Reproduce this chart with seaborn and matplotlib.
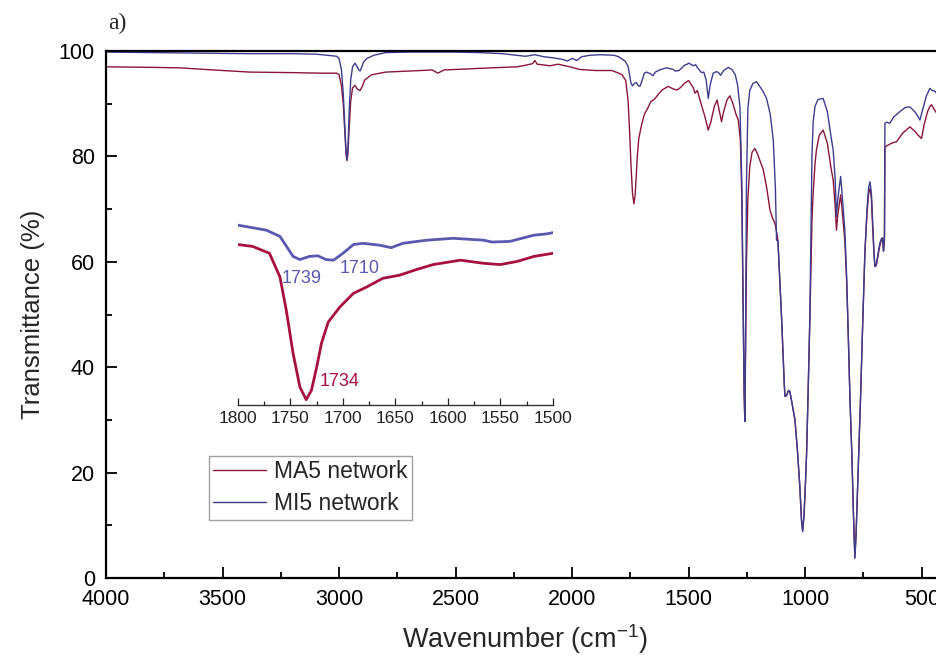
import matplotlib
matplotlib.use("Agg")
import matplotlib.pyplot as plt
import pandas as pd
import seaborn as sns
from matplotlib.ticker import MultipleLocator

# MI5 network spectrum (wavenumber cm-1, transmittance %)
mi5_wn = [4000, 3800, 3600, 3400, 3200, 3100, 3050, 3010, 3000, 2990, 2982, 2975,
          2970, 2966, 2962, 2957, 2950, 2942, 2932, 2922, 2915, 2910, 2904, 2895,
          2880, 2850, 2800, 2700, 2600, 2500, 2400, 2300, 2240, 2200, 2160, 2120,
          2080, 2040, 2020, 2000, 1980, 1960, 1924, 1880, 1820, 1800, 1773, 1760,
          1747.5, 1741, 1732, 1724, 1716, 1709, 1700, 1690, 1681, 1665, 1654, 1643,
          1620, 1595, 1566, 1558, 1541, 1518, 1506, 1500, 1480, 1470, 1460, 1445,
          1435, 1425, 1416, 1408, 1395, 1380, 1370, 1363, 1350, 1330, 1315, 1300,
          1290, 1280, 1272, 1266, 1262, 1259, 1256, 1252, 1246, 1238, 1225, 1209,
          1195, 1180, 1166, 1150, 1137, 1128, 1123, 1117, 1101, 1090, 1087, 1080,
          1072, 1066, 1058, 1044, 1033, 1023, 1016, 1011, 1005, 998, 994, 987, 980,
          975, 971, 966, 958, 945, 923, 905, 890, 880, 872, 866, 860, 848, 842, 830,
          822, 815, 808, 800, 793, 787, 782, 776, 770, 762, 755, 744, 735, 728, 722,
          716, 710, 705, 701, 695, 688, 680, 672, 668, 664, 660, 658, 650, 637, 620,
          594, 570, 551, 530, 515, 508, 495, 480, 465, 455, 445, 436, 420, 400]
mi5_t = [99.8, 99.7, 99.6, 99.5, 99.5, 99.4, 99.2, 99.0, 98.6, 96.5, 92.0, 85.5,
         81.0, 79.4, 81.5, 88.0, 94.5, 97.0, 97.7, 97.0, 96.4, 96.2, 96.8, 97.9,
         98.6, 99.2, 99.7, 99.8, 99.8, 99.8, 99.7, 99.5, 99.2, 99.0, 99.3, 98.9,
         98.7, 98.4, 98.1, 98.6, 98.2, 98.9, 99.2, 99.3, 99.2, 98.9, 98.1, 97.1,
         93.9, 93.4, 93.9, 94.0, 93.4, 93.3, 94.4, 95.8, 96.0, 95.7, 95.3, 96.0,
         96.5, 96.8, 96.5, 96.2, 96.3, 97.3, 97.5, 97.7, 97.2, 97.4, 96.7, 95.9,
         96.0, 94.5, 91.0, 93.5, 95.8, 96.1, 95.8, 95.4, 96.3, 96.9, 96.5, 95.5,
         93.5, 89.4, 75.0, 50.0, 35.0, 29.7, 45.0, 75.0, 89.0, 92.5, 93.8, 94.2,
         93.3, 92.3, 91.0, 88.0, 83.1, 74.0, 64.1, 64.0, 49.0, 37.0, 34.5, 34.6,
         35.6, 35.4, 33.5, 30.0, 24.0, 17.3, 11.0, 8.8, 12.0, 19.0, 23.7, 36.0, 50.0,
         66.0, 80.0, 86.5, 89.5, 90.8, 91.0, 88.5, 84.0, 81.2, 76.0, 68.6, 72.0,
         76.2, 73.0, 66.0, 57.0, 45.8, 34.0, 23.7, 12.0, 3.7, 8.0, 16.0, 23.7, 35.0,
         45.8, 61.7, 70.0, 74.0, 75.2, 73.0, 67.0, 62.0, 59.1, 59.5, 61.5, 63.5,
         64.5, 64.5, 62.0, 65.0, 86.3, 86.5, 86.3, 87.5, 88.5, 89.3, 89.4, 88.5,
         87.5, 86.9, 89.0, 91.5, 92.9, 92.5, 92.4, 92.0, 92.5, 92.5]

# MA5 network spectrum
ma5_wn = [4000, 3800, 3682, 3500, 3382, 3200, 3082, 3010, 3000, 2990, 2982, 2975,
          2970, 2966, 2962, 2957, 2950, 2942, 2932, 2922, 2910, 2900, 2890, 2860,
          2800, 2700, 2600, 2576, 2550, 2450, 2350, 2237, 2200, 2170, 2160, 2150,
          2095, 2060, 2040, 2010, 1967, 1900, 1830, 1800, 1786, 1770, 1760, 1754,
          1747.5, 1741, 1735, 1730, 1725, 1720.5, 1714, 1703, 1690, 1677.5, 1662,
          1646, 1630, 1614, 1588, 1566, 1550, 1534, 1518, 1500, 1480, 1473, 1463,
          1450, 1430, 1416, 1405, 1390, 1378, 1368, 1359, 1350, 1335, 1323, 1310,
          1297, 1287, 1278, 1272, 1266, 1262, 1259, 1256, 1252, 1246, 1238, 1228,
          1216, 1205, 1195, 1180, 1165, 1151, 1140, 1130, 1122, 1117, 1101, 1090,
          1087, 1080, 1072, 1066, 1058, 1044, 1033, 1023, 1016, 1011, 1005, 998, 994,
          987, 980, 975, 971, 966, 958, 952, 940, 923, 905, 890, 880, 872, 866, 860,
          848, 842, 830, 822, 815, 808, 800, 793, 787, 782, 776, 770, 762, 755, 744,
          735, 728, 722, 716, 710, 705, 701, 695, 688, 680, 672, 668, 664, 660, 658,
          650, 630, 608, 580, 551, 530, 515, 501, 490, 475, 465, 458, 445, 436, 420,
          400]
ma5_t = [97.0, 96.9, 96.8, 96.3, 96.0, 95.9, 95.8, 95.8, 95.5, 93.5, 90.0, 84.5,
         80.5, 79.2, 80.5, 85.0, 90.5, 93.0, 93.5, 92.8, 92.5, 93.3, 94.5, 95.5,
         96.0, 96.2, 96.4, 95.8, 96.4, 96.6, 96.8, 97.0, 97.3, 97.6, 98.2, 97.5,
         97.2, 97.5, 97.3, 97.0, 96.5, 96.3, 96.3, 95.8, 95.5, 94.4, 90.6, 85.3,
         78.4, 73.0, 71.0, 72.5, 76.2, 80.0, 83.4, 85.8, 88.0, 89.0, 90.4,
         90.9, 91.8, 92.6, 93.3, 92.8, 92.6, 93.1, 93.9, 94.4, 93.0, 92.0, 92.5,
         90.5, 87.5, 85.0, 86.5, 89.5, 90.7, 88.5, 86.6, 88.5, 90.8, 91.5, 90.0,
         88.0, 86.9, 83.0, 72.0, 50.0, 35.0, 29.7, 42.0, 60.0, 72.0, 78.0, 80.8,
         81.5, 80.5, 79.3, 77.5, 74.0, 69.8, 68.3, 67.3, 65.5, 64.0, 49.0, 37.0,
         34.5, 34.6, 35.6, 35.4, 33.5, 30.0, 24.0, 17.3, 11.0, 9.0, 12.0, 19.0, 23.7,
         36.0, 49.0, 60.0, 68.0, 73.0, 78.5, 81.2, 84.0, 85.0, 82.5, 78.0, 75.5,
         71.0, 66.0, 69.0, 72.7, 70.0, 64.0, 56.0, 45.8, 34.0, 23.7, 12.0, 4.0, 8.0,
         16.0, 23.7, 35.0, 45.8, 61.7, 69.0, 73.0, 73.9, 72.0, 66.0, 61.5, 59.1,
         59.3, 61.0, 63.0, 64.3, 64.5, 62.0, 64.0, 81.8, 82.0, 82.5, 82.8, 84.5,
         85.6, 84.8, 84.0, 83.4, 86.0, 88.5, 89.5, 89.8, 88.8, 88.2, 88.5, 88.5]

x_ticks = [4000, 3500, 3000, 2500, 2000, 1500, 1000, 500]
inset_ticks = [1800, 1750, 1700, 1650, 1600, 1550, 1500]
peak_labels = [("1739", 1739), ("1710", 1710), ("1734", 1734)]

RED = "#8a1538"
BLUE = "#3d3d8f"
RED_IN = "#a8113f"
BLUE_IN = "#5a58b0"

sns.set_style("ticks")
plt.rcParams["font.family"] = ["Liberation Sans", "DejaVu Sans"]
plt.rcParams["mathtext.fontset"] = "custom"
plt.rcParams["mathtext.rm"] = "Liberation Sans"
plt.rcParams["mathtext.it"] = "Liberation Sans"

ma5 = pd.DataFrame({"wn": ma5_wn, "T": ma5_t})
mi5 = pd.DataFrame({"wn": mi5_wn, "T": mi5_t})

fig = plt.figure(figsize=(9.37, 6.6), dpi=100)
ax = fig.add_axes([0.1131, 0.1242, 0.8955, 0.7985])

sns.lineplot(data=ma5, x="wn", y="T", ax=ax, color=RED, lw=1.0, sort=False,
             estimator=None, label="MA5 network")
sns.lineplot(data=mi5, x="wn", y="T", ax=ax, color=BLUE, lw=1.0, sort=False,
             estimator=None, label="MI5 network")

ax.set_xlim(4000, 400)
ax.set_ylim(0, 100)
ax.set_xticks(x_ticks)
ax.xaxis.set_minor_locator(MultipleLocator(250))
ax.yaxis.set_major_locator(MultipleLocator(20))
ax.yaxis.set_minor_locator(MultipleLocator(10))
ax.tick_params(which="both", direction="in", top=False, right=False, width=1.3,
               labelsize=15.5, colors="black")
ax.tick_params(which="major", length=8)
ax.tick_params(which="minor", length=4)
ax.tick_params(axis="y", pad=8)
ax.tick_params(axis="x", pad=8)
for s in ax.spines.values():
    s.set_linewidth(1.6)
    s.set_color("black")

ax.set_xlabel(r"Wavenumber (cm$^{-1}$)", fontsize=19.5, labelpad=9)
ax.set_ylabel("Transmittance (%)", fontsize=18.5, labelpad=10)

leg = ax.legend(loc="lower left", bbox_to_anchor=(0.1225, 0.111), fontsize=16.5,
                frameon=True, fancybox=False, handlelength=2.3, handletextpad=0.35,
                borderpad=0.2, labelspacing=0.38, borderaxespad=0)
leg.get_frame().set_edgecolor("#888888")
leg.get_frame().set_linewidth(1.0)

fig.text(0.115, 0.964, "a)", family=["Liberation Serif", "DejaVu Serif"],
         fontsize=17, ha="left", va="center")

# inset: carbonyl region
ins = fig.add_axes([0.254, 0.386, 0.336, 0.288])
ins_ma5 = ma5[(ma5.wn <= 1800) & (ma5.wn >= 1500)]
ins_mi5 = mi5[(mi5.wn <= 1800) & (mi5.wn >= 1500)]
sns.lineplot(data=ins_ma5, x="wn", y="T", ax=ins, color=RED_IN, lw=2.0,
             sort=False, estimator=None)
sns.lineplot(data=ins_mi5, x="wn", y="T", ax=ins, color=BLUE_IN, lw=2.0,
             sort=False, estimator=None)
ins.set_xlim(1800, 1500)
ins.set_ylim(70.1, 100.5)
ins.set_xticks(inset_ticks)
ins.xaxis.set_minor_locator(MultipleLocator(25))
ins.set_yticks([])
ins.set_xlabel("")
ins.set_ylabel("")
ins.patch.set_alpha(0)
for side in ["left", "top", "right"]:
    ins.spines[side].set_visible(False)
ins.spines["bottom"].set_linewidth(1.0)
ins.spines["bottom"].set_color("#333333")
ins.tick_params(axis="x", which="both", direction="in", labelsize=12.5, pad=4,
                width=0.9, colors="#222222")
ins.tick_params(axis="x", which="major", length=5)
ins.tick_params(axis="x", which="minor", length=3)

ins.text(1739, 91.8, peak_labels[0][0], color=BLUE_IN, fontsize=13,
         ha="center", va="top")
ins.text(1684, 93.3, peak_labels[1][0], color=BLUE_IN, fontsize=13,
         ha="center", va="top")
ins.text(1703, 75.3, peak_labels[2][0], color=RED_IN, fontsize=13,
         ha="center", va="top")

fig.savefig("out.png", dpi=100)
